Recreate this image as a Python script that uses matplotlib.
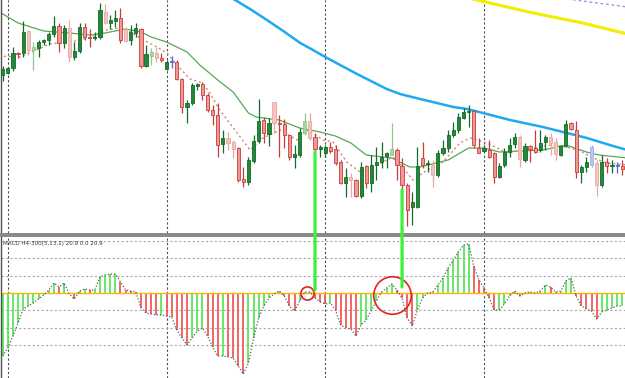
import matplotlib
matplotlib.use('Agg')
import matplotlib.pyplot as plt
from matplotlib.patches import Rectangle, ConnectionPatch

# H4 candles, price in chart points
opens = [165, 167, 172, 187, 187, 209, 190, 192, 198, 200,
         206, 214, 197, 212, 183, 189, 213, 203, 202, 203,
         228, 217, 219, 222, 211, 200, 207, 211, 174, 184,
         187, 182, 171, 178, 178, 161, 133, 137, 154, 156,
         145, 130, 125, 96, 102, 98, 92, 61, 58, 79,
         99, 120, 106, 138, 117, 116, 105, 83, 85, 107,
         119, 103, 91, 87, 93, 91, 78, 57, 63, 60,
         44, 74, 57, 75, 78, 84, 85, 90, 74, 55,
         33, 33, 82, 76, 75, 65, 87, 92, 105, 110,
         122, 128, 129, 92, 89, 90, 87, 63, 75, 88,
         96, 103, 80, 94, 92, 90, 98, 103, 98, 85,
         94, 117, 110, 68, 73, 93, 77, 55, 78, 74,
         74, 74]
closes = [171, 172, 187, 186, 208, 190, 193, 198, 200, 206,
          214, 197, 212, 183, 189, 213, 203, 202, 203, 230,
          217, 220, 222, 200, 199, 208, 212, 174, 186, 188,
          182, 180, 178, 178, 161, 133, 137, 155, 156, 145,
          130, 125, 95, 102, 97, 91, 60, 58, 80, 99,
          119, 107, 117, 117, 116, 105, 83, 86, 108, 119,
          102, 91, 93, 93, 89, 77, 57, 63, 60, 44,
          73, 57, 75, 78, 83, 87, 91, 75, 55, 30,
          38, 74, 75, 77, 65, 87, 92, 105, 110, 123,
          128, 129, 95, 87, 92, 83, 63, 74, 88, 95,
          103, 81, 94, 91, 88, 97, 103, 97, 86, 94,
          116, 111, 68, 73, 78, 75, 55, 78, 74, 75,
          74, 71]
highs = [174, 173, 193, 188, 219, 210, 198, 200, 201, 208,
         224, 217, 215, 220, 198, 217, 217, 211, 208, 237,
         236, 225, 230, 232, 213, 215, 217, 212, 195, 192,
         193, 187, 180, 184, 180, 162, 140, 157, 157, 158,
         147, 135, 137, 110, 108, 100, 93, 73, 83, 105,
         141, 123, 122, 138, 125, 121, 105, 95, 112, 127,
         127, 107, 95, 95, 98, 95, 80, 72, 67, 61,
         78, 75, 85, 93, 98, 88, 117, 92, 82, 57,
         48, 93, 98, 80, 80, 90, 100, 110, 118, 127,
         132, 135, 130, 102, 95, 100, 88, 77, 92, 102,
         107, 105, 97, 95, 110, 110, 105, 107, 102, 95,
         120, 118, 119, 75, 83, 95, 80, 85, 82, 80,
         78, 80]
lows = [159, 166, 169, 182, 183, 185, 170, 183, 195, 195,
        203, 188, 192, 178, 180, 187, 200, 193, 200, 201,
        216, 211, 213, 197, 198, 195, 203, 172, 173, 175,
        178, 178, 170, 172, 160, 127, 117, 135, 150, 140,
        128, 115, 83, 87, 90, 82, 58, 53, 55, 77,
        97, 97, 94, 107, 83, 92, 80, 72, 83, 105,
        100, 89, 83, 83, 87, 75, 56, 43, 43, 43,
        42, 52, 48, 60, 72, 72, 85, 60, 50, 14,
        15, 32, 72, 68, 53, 63, 85, 88, 103, 107,
        121, 113, 92, 87, 88, 82, 57, 62, 73, 83,
        92, 73, 78, 78, 87, 88, 90, 85, 80, 84,
        93, 110, 62, 57, 68, 73, 44, 53, 67, 67,
        67, 65]

# MACD(5,13,1) histogram, one value per candle
macd = [-63, -55, -43, -30, -16, -13, -10, -6, -2, 3,
        10, 6, 10, -1, -6, 2, 4, 3, 3, 16,
        18, 19, 19, 11, 3, 2, 1, -15, -20, -21,
        -22, -22, -23, -24, -37, -45, -52, -45, -38, -35,
        -43, -54, -63, -63, -64, -65, -73, -81, -70, -45,
        -25, -13, -5, -1, 2, -3, -13, -18, -8, 1,
        1, -5, -9, -11, -10, -17, -32, -35, -36, -43,
        -32, -27, -17, -8, 1, 5, 9, 3, -5, -25,
        -33, -17, -5, 0, 1, 8, 15, 25, 33, 41,
        48, 49, 27, 13, 5, -5, -17, -17, -11, -3,
        2, -3, 0, 1, 0, 2, 8, 6, 1, 2,
        12, 15, -3, -13, -16, -18, -26, -19, -17, -15,
        -13, -13]
macd_label = 'MACD H4-300(5,13,1) 20.9 0.0 20.9'

# moving averages (candle position, price)
slow_x = [-1, 3, 8, 13, 17, 20, 24, 27, 29, 32, 36, 38.5, 42, 45, 48, 49.5, 54, 58,
          62, 65, 68, 71, 76, 79.5, 81.5, 87, 91, 94, 97, 105.5, 110, 114, 116.5, 122]
slow_y = [229, 217, 209, 207, 205, 207, 211, 208, 203, 198, 188, 175, 160, 148, 127, 123, 120, 112,
          108, 104, 97, 85, 82, 73, 73, 80, 92, 92, 88, 90, 95, 88, 85, 82]
fast_x = [-1, 3.4, 9.2, 14.1, 17, 20.4, 22.9, 24.3, 26.8, 30.1, 32.1, 34, 36.6, 38.5, 40.1,
          42.4, 45.8, 48.3, 50.8, 54.2, 57.5, 59.4, 62.6, 64.5, 67.2, 69.8, 72.3, 76.2, 77.6,
          80.1, 82.9, 86, 89.3, 91.3, 94.6, 98.5, 103.6, 106.9, 110.2, 112.8, 115.3, 118, 122]
fast_y = [184, 183, 196, 199, 202, 210, 212, 210, 202, 193, 187, 175, 161, 158, 150,
          130, 107, 90, 102, 110, 100, 110, 100, 98, 78, 68, 73, 83, 76,
          60, 70, 78, 97, 102, 97, 87, 92, 95, 93, 89, 82, 77, 75]
blue_x = [42.4, 45.4, 48.3, 51.6, 54.8, 58.1, 60.6, 63, 65.9, 69.2, 72.3, 75, 77.6, 81.5, 84, 88,
          90.7, 93.8, 99.1, 105.5, 110.2, 114.1, 119.2, 122]
blue_y = [248, 240, 231, 220, 209, 197, 190, 183, 175, 166, 158, 151, 146, 141, 138, 133,
          131, 127, 120, 113, 107, 102, 94, 90]
yellow_x = [87.4, 92.6, 103.6, 113.3, 122]
yellow_y = [247, 240, 227, 217, 206]
purple_x = [108.8, 111.8, 122]
purple_y = [242, 240, 233]

# candle looks
faded_up = [6, 29, 59, 76]
faded_down = [5, 13, 20, 24, 30, 44, 45, 53, 60, 68, 84, 101, 107, 108, 116]
blue_doji = [33, 120]
pale_blue = [115]

W, H = 625.0, 378.0
fig = plt.figure(figsize=(6.25, 3.78), dpi=100)
ax = fig.add_axes([1 / W, (H - 233) / H, 1 - 1 / W, 233 / H])
ax2 = fig.add_axes([1 / W, 0, 1 - 1 / W, 141 / H])

step = 5.12
xl = ((1 - 2.7) / step, (625 - 2.7) / step)
for a in (ax, ax2):
    a.set_xlim(*xl)
    a.set_xticks([])
    a.set_yticks([])
    for s in ['top', 'right', 'bottom']:
        a.spines[s].set_visible(False)
    a.spines['left'].set_color('#505050')
    a.spines['left'].set_linewidth(1.0)
    for gx in [1, 32, 63, 94]:
        a.axvline(gx, color='#4a4a4a', lw=0.8, ls=(0, (2, 2)), zorder=0.5)
ax.set_ylim(7, 240)
ax2.set_ylim(-85, 56)

# moving averages
ax.plot(slow_x, slow_y, color='#55a855', lw=0.9, zorder=1)
ax.plot(fast_x, fast_y, color='#c98a7a', lw=1.0, ls=(0, (1.5, 2)), zorder=1)
ax.plot(blue_x, blue_y, color='#1eaaf0', lw=1.8, zorder=1)
ax.plot(yellow_x, yellow_y, color='#f2ee00', lw=2.2, zorder=1)
ax.plot(purple_x, purple_y, color='#b58be8', lw=1.0, ls=(0, (2, 2)), zorder=1)

# candles
for i in range(len(opens)):
    o, h, l, c = opens[i], highs[i], lows[i], closes[i]
    if i in blue_doji:
        face, edge = '#3f6fe0', '#3f6fe0'
    elif i in pale_blue:
        face, edge = '#b9c6f2', '#9fb0ee'
    elif c >= o:
        if i in faded_up:
            face, edge = '#a6d8a6', '#8cc88c'
        else:
            face, edge = '#208a3a', '#146a2a'
    else:
        if i in faded_down:
            face, edge = '#f4c4c0', '#eaa8a2'
        else:
            face, edge = '#ec9b94', '#cc3b3b'
    ax.vlines(i, l, h, color=edge, lw=0.9, zorder=2)
    ax.bar(i, max(abs(c - o), 0.8), bottom=min(o, c), width=0.62,
           color=face, edgecolor=edge, linewidth=0.6, zorder=3)

# MACD panel
for k in [-3, -2, -1, 1, 2, 3]:
    ax2.axhline(17.4 * k, color='#a8a8a8', lw=0.8, ls=(0, (2, 2)), zorder=0.5)
idx = list(range(len(macd)))
cols = ['#5ae65a' if i == 0 or macd[i] >= macd[i - 1] else '#f05a5a' for i in idx]
ax2.vlines(idx, 0, macd, colors=cols, lw=1.3, zorder=2)
ax2.axhline(0, color='#ffb400', lw=1.0, zorder=2.5)
ax2.plot(idx, macd, color='#606060', lw=0.9, ls=(0, (1, 1.5)), zorder=3)
ax2.text(2 / 624, 1 - 6 / 141, macd_label, transform=ax2.transAxes,
         fontsize=4.1, color='#333333', va='center', ha='left')

# red circles
ax2.plot([59.4], [0], 'o', ms=9.5, mfc='none', mec='#e82020', mew=1.2, zorder=5)
ax2.plot([76], [-2], 'o', ms=27, mfc='none', mec='#e82020', mew=1.2, zorder=5)

# panel separator
fig.add_artist(Rectangle((0, 141 / H), 1, 4 / H, transform=fig.transFigure,
                         facecolor='#8a8a8a', edgecolor='none', zorder=4))

# green markers from candle lows down to the histogram
for cx, p, m in [(61, 88, 3), (78, 50, 6)]:
    con = ConnectionPatch(xyA=(cx, p), coordsA=ax.transData, xyB=(cx, m), coordsB=ax2.transData,
                          color='#3cf03c', lw=2.3, zorder=6)
    fig.add_artist(con)

fig.savefig('out.png', dpi=100)
